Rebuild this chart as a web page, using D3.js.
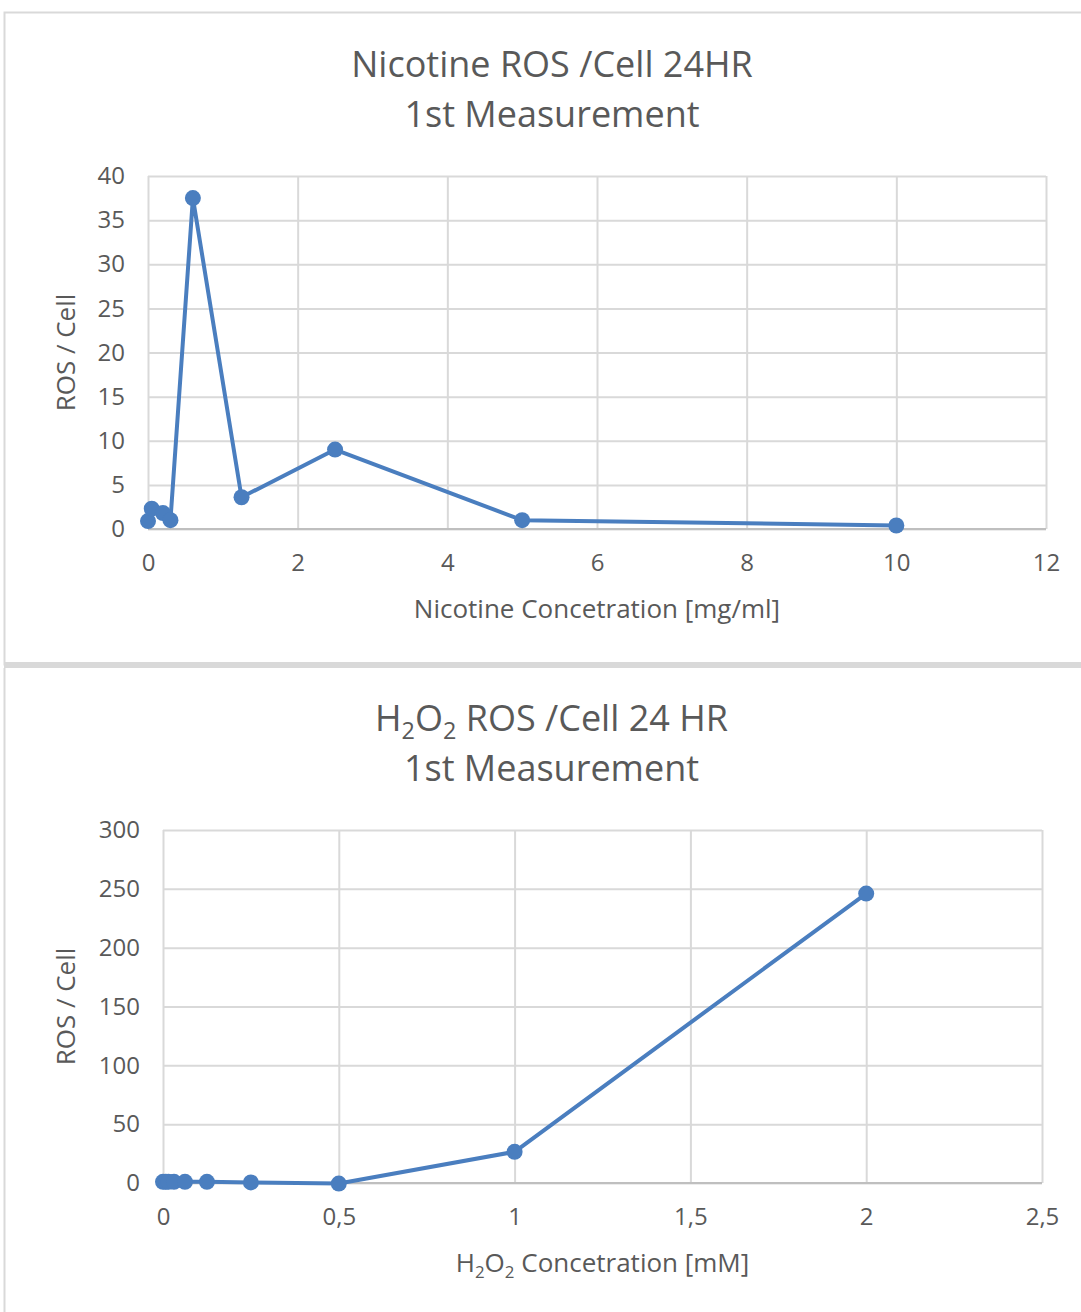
<!DOCTYPE html>
<html>
<head>
<meta charset="utf-8">
<script src="https://cdn.jsdelivr.net/npm/d3@7"></script>
<style>
  html, body { margin: 0; padding: 0; background: #fff; }
  svg { display: block; }
  text { font-family: "Open Sans", sans-serif; fill: #595959; }
</style>
</head>
<body>
<div id="chart"></div>
<script>
// nicotine series
const nicotineConc = [0, 0.05, 0.2, 0.3, 0.6, 1.25, 2.5, 5, 10];
const nicotineRos = [0.9, 2.3, 1.8, 1.0, 37.5, 3.6, 9.0, 1.0, 0.4];
const nicotineXTicks = [0, 2, 4, 6, 8, 10, 12];
const nicotineYTicks = [0, 5, 10, 15, 20, 25, 30, 35, 40];

// H2O2 series
const h2o2Conc = [0, 0.0078, 0.0156, 0.03125, 0.0625, 0.125, 0.25, 0.5, 1, 2];
const h2o2Ros = [1, 1, 1, 1, 1, 1, 0.5, -0.5, 26.5, 246];
const h2o2XTicks = [0, 0.5, 1, 1.5, 2, 2.5];
const h2o2YTicks = [0, 50, 100, 150, 200, 250, 300];

const W = 1081, H = 1312;
const blue = "#4a7ebf";
const grid = "#d9d9d9";
const commaFmt = v => d3.format("~g")(v).replace(".", ",");

const svg = d3.select("#chart").append("svg")
    .attr("width", W)
    .attr("height", H);

// panel frames
svg.append("rect").attr("x", 4.5).attr("y", 12.5).attr("width", W + 10).attr("height", 652)
    .attr("fill", "none").attr("stroke", grid).attr("stroke-width", 2);
svg.append("rect").attr("x", 4).attr("y", 662).attr("width", W).attr("height", 6).attr("fill", grid);
svg.append("line").attr("x1", 4.5).attr("x2", 4.5).attr("y1", 668).attr("y2", H)
    .attr("stroke", grid).attr("stroke-width", 2);

// text with optional subscript parts: [[text, isSub], ...]
function richText(g, parts, x, y, size, anchor) {
  const t = g.append("text")
      .attr("x", x).attr("y", y)
      .attr("text-anchor", anchor || "middle")
      .style("font-size", size + "px");
  let shifted = false;
  parts.forEach(([s, sub]) => {
    const ts = t.append("tspan").text(s);
    if (sub && !shifted) { ts.attr("dy", size * 0.22).style("font-size", (size * 0.65) + "px"); shifted = true; }
    else if (sub) { ts.style("font-size", (size * 0.65) + "px"); }
    else if (shifted) { ts.attr("dy", -size * 0.22); shifted = false; }
  });
  return t;
}

function drawChart(cfg) {
  const g = svg.append("g");
  const x = d3.scaleLinear().domain(cfg.xDomain).range([cfg.left, cfg.right]);
  const y = d3.scaleLinear().domain(cfg.yDomain).range([cfg.bottom, cfg.top]);

  // horizontal gridlines
  g.append("g")
      .attr("transform", `translate(${cfg.left},0)`)
      .call(d3.axisLeft(y).tickValues(cfg.yTicks).tickSize(-(cfg.right - cfg.left)).tickFormat(""))
      .call(a => a.select(".domain").remove())
      .call(a => a.selectAll("line").attr("stroke", grid).attr("stroke-width", 2));

  // vertical gridlines
  g.append("g")
      .attr("transform", `translate(0,${cfg.bottom})`)
      .call(d3.axisBottom(x).tickValues(cfg.xTicks).tickSize(-(cfg.bottom - cfg.top)).tickFormat(""))
      .call(a => a.select(".domain").remove())
      .call(a => a.selectAll("line").attr("stroke", grid).attr("stroke-width", 2));

  // bottom axis line
  g.append("line")
      .attr("x1", cfg.left).attr("x2", cfg.right)
      .attr("y1", y(0)).attr("y2", y(0))
      .attr("stroke", "#bfbfbf").attr("stroke-width", 2);

  // y tick labels
  g.append("g")
      .attr("transform", `translate(${cfg.left - 23},0)`)
      .call(d3.axisLeft(y).tickValues(cfg.yTicks).tickSize(0).tickPadding(0))
      .call(a => a.select(".domain").remove())
      .call(a => a.selectAll("text").style("font-size", "24px").attr("font-family", null).attr("fill", null));

  // x tick labels
  g.append("g")
      .attr("transform", `translate(0,${cfg.bottom + 25})`)
      .call(d3.axisBottom(x).tickValues(cfg.xTicks).tickSize(0).tickPadding(0).tickFormat(cfg.xFormat))
      .call(a => a.select(".domain").remove())
      .call(a => a.selectAll("text").style("font-size", "24px").attr("font-family", null).attr("fill", null));

  const pts = cfg.xs.map((v, i) => [v, cfg.ys[i]]);

  g.append("path")
      .datum(pts)
      .attr("fill", "none")
      .attr("stroke", blue)
      .attr("stroke-width", 4)
      .attr("stroke-linejoin", "round")
      .attr("d", d3.line().x(d => x(d[0])).y(d => y(d[1])));

  g.selectAll("circle.pt")
      .data(pts)
      .enter()
      .append("circle")
      .attr("class", "pt")
      .attr("cx", d => x(d[0]))
      .attr("cy", d => y(d[1]))
      .attr("r", 8)
      .attr("fill", blue);

  // titles
  richText(g, cfg.title, (cfg.left + cfg.right) / 2 + cfg.titleDx, cfg.titleY, 36);
  richText(g, [["1st Measurement", false]], (cfg.left + cfg.right) / 2 + cfg.titleDx, cfg.titleY + 50, 36);
  richText(g, cfg.xTitle, (cfg.left + cfg.right) / 2, cfg.bottom + 89, 26);

  g.append("text")
      .attr("transform", `translate(75,${(cfg.top + cfg.bottom) / 2}) rotate(-90)`)
      .attr("text-anchor", "middle")
      .style("font-size", "26px")
      .text("ROS / Cell");
}

drawChart({
  xs: nicotineConc, ys: nicotineRos,
  xDomain: [0, 12], yDomain: [0, 40],
  xTicks: nicotineXTicks, yTicks: nicotineYTicks,
  xFormat: d3.format("d"),
  left: 148, right: 1046, top: 176, bottom: 529,
  title: [["Nicotine ROS /Cell 24HR", false]],
  titleY: 77, titleDx: -45,
  xTitle: [["Nicotine Concetration [mg/ml]", false]]
});

drawChart({
  xs: h2o2Conc, ys: h2o2Ros,
  xDomain: [0, 2.5], yDomain: [0, 300],
  xTicks: h2o2XTicks, yTicks: h2o2YTicks,
  xFormat: commaFmt,
  left: 163, right: 1042, top: 830, bottom: 1183,
  title: [["H", false], ["2", true], ["O", false], ["2", true], [" ROS /Cell 24 HR", false]],
  titleY: 731, titleDx: -51,
  xTitle: [["H", false], ["2", true], ["O", false], ["2", true], [" Concetration [mM]", false]]
});
</script>
</body>
</html>
